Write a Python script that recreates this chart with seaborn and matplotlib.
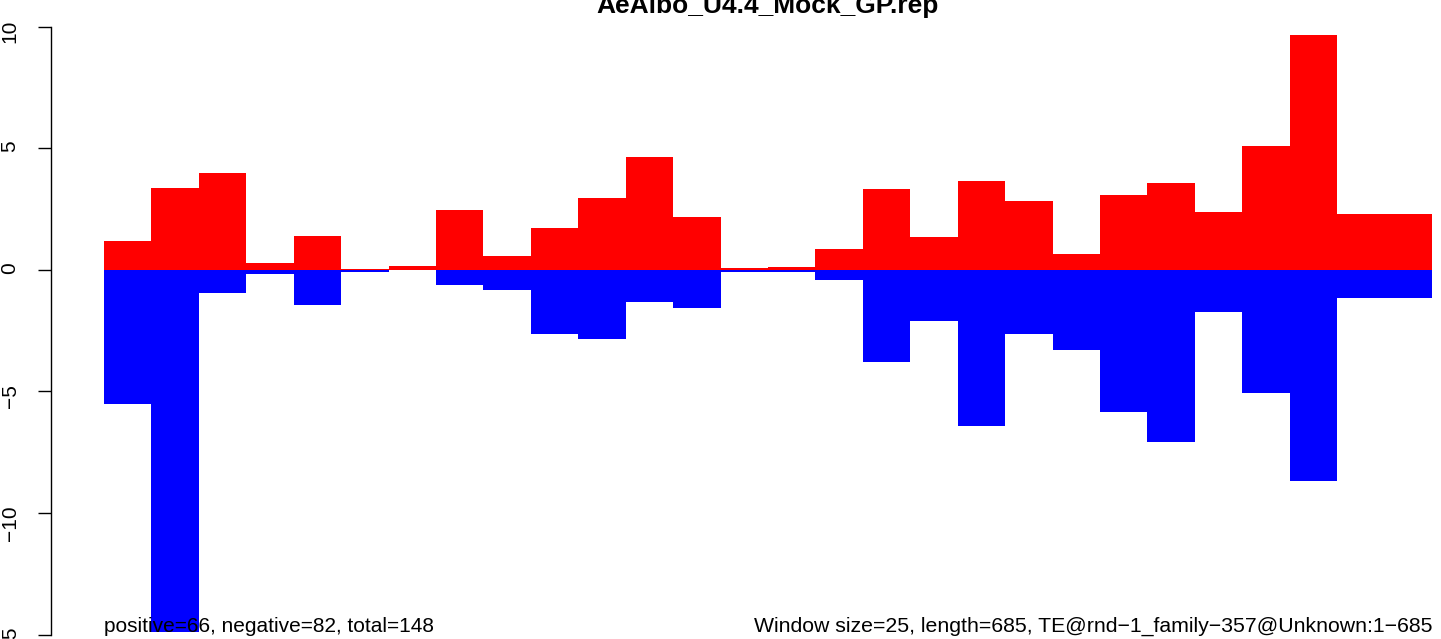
import numpy as np
import pandas as pd
import matplotlib
matplotlib.use("Agg")
import matplotlib.pyplot as plt
import seaborn as sns

# valores por ventana (28 ventanas de 25 pb)
ventana = list(range(1, 29))
positivos = [1.19, 3.37, 3.99, 0.29, 1.40, 0.05, 0.14, 2.47, 0.58, 1.73,
             2.96, 4.64, 2.18, 0.08, 0.12, 0.84, 3.33, 1.36, 3.66, 2.84,
             0.66, 3.08, 3.58, 2.38, 5.10, 9.66, 2.30, 2.30]
negativos = [-5.51, -14.9, -0.95, -0.16, -1.43, -0.11, 0.0, -0.64, -0.81, -2.62,
             -2.86, -1.31, -1.59, -0.08, -0.08, -0.40, -3.81, -2.10, -6.44, -2.63,
             -3.29, -5.84, -7.07, -1.73, -5.06, -8.70, -1.14, -1.14]
yticks = [-15, -10, -5, 0, 5, 10]

titulo = "AeAlbo_U4.4_Mock_GP.rep"
texto_izq = "positive=66, negative=82, total=148"
texto_der = "Window size=25, length=685, TE@rnd\u22121_family\u2212357@Unknown:1\u2212685"

df = pd.DataFrame({'ventana': ventana, 'pos': positivos, 'neg': negativos})

sns.set_style("white")
plt.rcParams['font.family'] = ['Liberation Sans', 'DejaVu Sans']
plt.rcParams['text.color'] = 'black'

W, H = 1441, 639
fig = plt.figure(figsize=(W / 100, H / 100), dpi=100)
ax = fig.add_axes([104 / W, (H - 634.5) / H, (1432 - 104) / W, (634.5 - 26.7) / H])

sns.barplot(data=df, x='ventana', y='pos', color='#ff0000', saturation=1,
            width=1, linewidth=0, ax=ax)
sns.barplot(data=df, x='ventana', y='neg', color='#0000ff', saturation=1,
            width=1, linewidth=0, ax=ax)

ax.set_xlim(-0.5, len(ventana) - 0.5)
ax.set_ylim(-15, 10)
ax.set_xticks([])
ax.set_xlabel('')
ax.set_ylabel('')
ax.set_yticks(yticks, [str(t).replace('-', '\u2212') for t in yticks])
ax.tick_params(axis='y', length=9.4, width=1, pad=13, color='black', left=True,
               labelsize=15, labelrotation=90, labelcolor='black')
for lbl in ax.get_yticklabels():
    lbl.set_verticalalignment('center')
for s in ['top', 'right', 'bottom']:
    ax.spines[s].set_visible(False)
ax.spines['left'].set_position(('outward', 38.4))
ax.spines['left'].set_color('black')
ax.spines['left'].set_linewidth(1)

fig.text((104 + 1432) / 2 / W, 1 - 12.5 / H, titulo, ha='center', va='baseline',
         fontsize=19, fontweight='bold', color='black')
fig.text(104 / W, (H - 632) / H, texto_izq, ha='left', va='baseline',
         fontsize=15, color='black')
fig.text(1432 / W, (H - 632) / H, texto_der, ha='right', va='baseline',
         fontsize=15.3, color='black')

fig.savefig('out.png', dpi=100)
